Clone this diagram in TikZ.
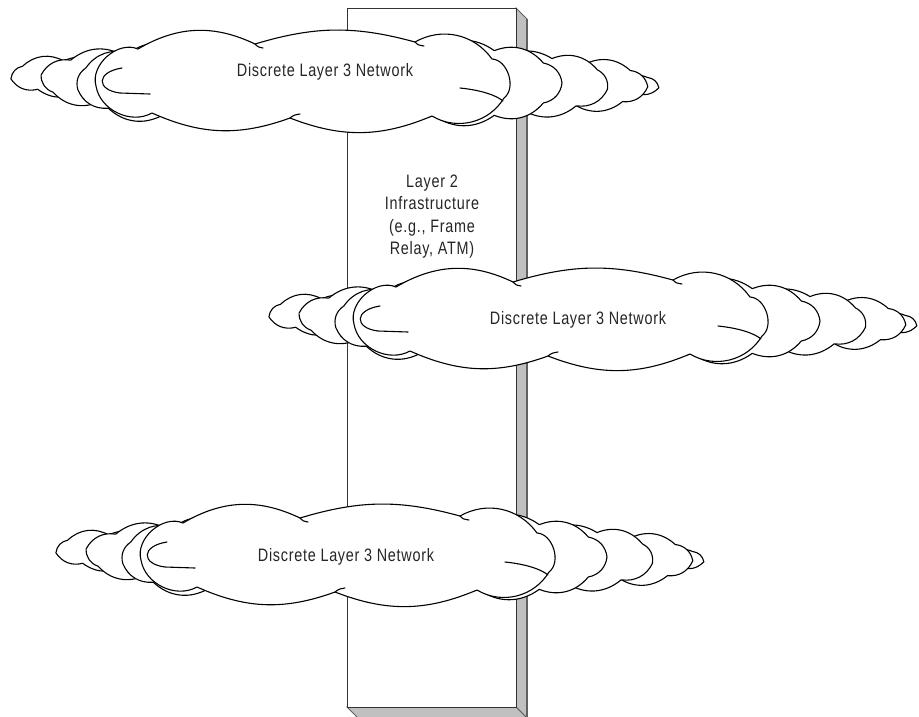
\documentclass[tikz,border=0pt]{standalone}
\usepackage{fontspec}
\setmainfont{Liberation Sans}[FakeStretch=0.8, LetterSpace=4]

\definecolor{sidegray}{HTML}{C0C0C0}
\definecolor{edgegray}{HTML}{606060}

\tikzset{
  cl/.style={draw=black, fill=white, line width=1.1pt, line join=round},
  curl/.style={draw=black, line width=1.1pt, line cap=round},
  lbl/.style={font=\fontsize{18}{22.5}\selectfont, text=black!85, inner sep=0pt},
  pillarface/.style={draw=black!80, line width=0.8pt, fill=white},
  pillarside/.style={draw=edgegray, line width=0.9pt, fill=sidegray},
}

% small puffy cloud on an ellipse: cx, cy, rx, ry, puffs, start angle
\newcommand\tailcloud[6]{%
  \path[cl] ({#1+#3*cos(#6)},{#2+#4*sin(#6)})
    \foreach \k in {1,...,#5} {
      to[bend left=36] ({#1+#3*cos(#6+\k*360/#5)},{#2+#4*sin(#6+\k*360/#5)})
    } -- cycle;}

% #1 cx, #2 cy (centre of the main cloud)
\newcommand\netcloud[2]{%
  \begin{scope}[shift={(#1,#2)}]
    \tailcloud{-238}{-6}{52}{15}{7}{15}
    \tailcloud{341}{3}{19}{8}{4}{20}
    \tailcloud{-188}{-3}{72}{23}{8}{10}
    \tailcloud{291}{3}{57}{20}{7}{5}
    \tailcloud{237}{2}{72}{26}{8}{12}
    \tailcloud{-140}{1}{84}{32}{9}{8}
    \tailcloud{164}{1}{98}{34}{10}{0}
    \path[cl] (-204,4) to[bend left=65] (-162,-33) to[bend left=28] (-45,-38)
      to[bend left=16] (115,-40) to[bend left=42] (192,-23) to[bend left=70] (204,16)
      to[bend left=45] (132,34) to[bend left=22] (-10,36) to[bend left=22] (-148,31)
      to[bend left=55] (-204,4) -- cycle;
    \draw[curl] (-178,-14) .. controls (-204,-10) and (-204,8) .. (-180,11) -- (-150,12);
    \draw[curl] (160,6) .. controls (180,8) and (196,13) .. (203,19);
    \draw[curl] (-45,-38) .. controls (-42,-35) .. (-37,-34);
    \draw[curl] (115,-40) .. controls (118,-37) .. (124,-36);
    \draw[curl] (-10,36) .. controls (-6,33) .. (0,32);
  \end{scope}}

\begin{document}
\begin{tikzpicture}[x=1pt, y=-1pt]
  \useasboundingbox (0,0) rectangle (919,716);
  \fill[white] (0,0) rectangle (919,716);

  % Layer 2 pillar
  \coordinate (ptl) at (347,8);
  \coordinate (ptr) at (516,8);
  \coordinate (pbr) at (516,707);
  \coordinate (pbl) at (347,707);
  \coordinate (str) at (527,19);
  \coordinate (sbr) at (527,718);
  \coordinate (sbl) at (358,718);
  \draw[pillarside] (ptr) -- (str) -- (sbr) -- (pbr) -- cycle;
  \draw[pillarside] (pbl) -- (pbr) -- (sbr) -- (sbl) -- cycle;
  \draw[edgegray, line width=1.6pt] (str) -- (sbr);
  \draw[pillarface] (ptl) rectangle (pbr);
  \node[lbl, align=center] (infra) at (432,216.5)
    {Layer 2\\Infrastructure\\(e.g., Frame\\Relay, ATM)};

  % clouds
  \netcloud{300}{82}
  \node[lbl] (t1) at (325,72) {Discrete Layer 3 Network};

  \netcloud{558}{320}
  \node[lbl] (t2) at (578,320) {Discrete Layer 3 Network};

  \netcloud{345}{556}
  \node[lbl] (t3) at (346,557) {Discrete Layer 3 Network};
\end{tikzpicture}
\end{document}
